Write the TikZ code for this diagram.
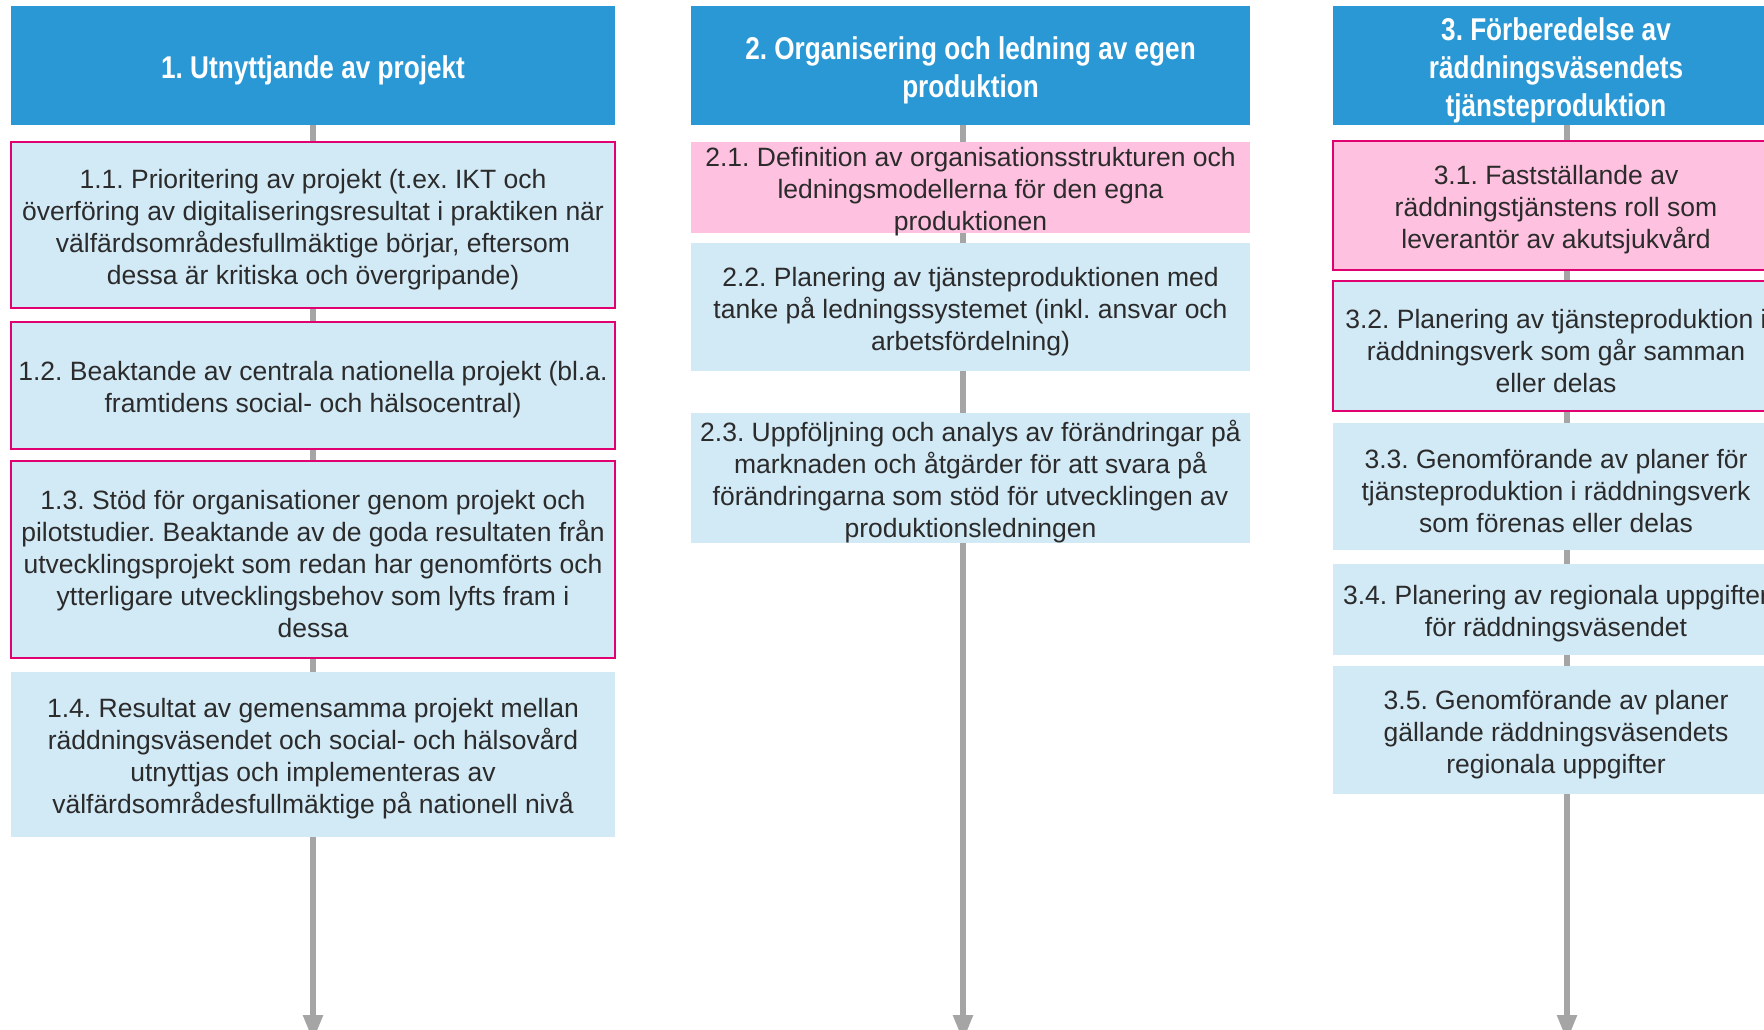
\documentclass[tikz,border=0pt]{standalone}
\usepackage{fontspec}
\setmainfont{Liberation Sans}
\newfontfamily\headfont[FakeStretch=0.83]{Liberation Sans}
\usetikzlibrary{backgrounds,arrows.meta}
\definecolor{headblue}{HTML}{2998D5}
\definecolor{lightblue}{HTML}{D2E9F6}
\definecolor{pinkfill}{HTML}{FEC1DF}
\definecolor{magentab}{HTML}{E1006F}
\definecolor{conngray}{HTML}{A5A5A5}
\definecolor{textgray}{HTML}{2B2B2B}
\frenchspacing
\newcommand{\fstrut}{}
\tikzset{
  cell/.style={inner sep=0pt, outer sep=0pt, align=center, text=textgray,
    font=\fontsize{13.25}{16}\selectfont,
    execute at begin node={\def\fstrut{\rule{0pt}{14.2pt}}}},
  headbox/.style={inner sep=0pt, outer sep=0pt, align=center,
    fill=headblue, text=white,
    font=\headfont\bfseries\fontsize{15.75}{19}\selectfont,
    execute at begin node={\def\fstrut{\rule{0pt}{16pt}}}},
  bluebox/.style={cell, fill=lightblue},
  blueframe/.style={cell, fill=lightblue, draw=magentab, line width=1.2pt},
  pinktext/.style={cell},
  pinkframe/.style={cell, fill=pinkfill, draw=magentab, line width=1.2pt},
  conn/.style={draw=conngray, line width=2.7pt,
    -{Triangle[width=9.5pt,length=13pt]}},
}
% name, style, left, top, right, bottom, text
\newcommand{\cellbox}[7]{%
  \node[#2, minimum width={(#5-#3)*0.5pt}, minimum height={(#6-#4)*0.5pt}]
    (#1) at ({(#3+#5)/2},{(#4+#6)/2}) {\fstrut#7};}
\begin{document}
\begin{tikzpicture}[x=0.5pt,y=-0.5pt]
\useasboundingbox (0,0) rectangle (1764,1029);
\clip (0,0) rectangle (1764,1029);
% column 1
\cellbox{h1}{headbox}{11}{6}{615}{125}{1. Utnyttjande av projekt}
\cellbox{b11}{blueframe}{11}{142}{615}{308}{1.1. Prioritering av projekt (t.ex. IKT och\\överföring av digitaliseringsresultat i praktiken när\\välfärdsområdesfullmäktige börjar, eftersom\\dessa är kritiska och övergripande)}
\cellbox{b12}{blueframe}{11}{322}{615}{449}{1.2. Beaktande av centrala nationella projekt (bl.a.\\framtidens social- och hälsocentral)}
\cellbox{b13}{blueframe}{11}{461}{615}{658}{1.3. Stöd för organisationer genom projekt och\\pilotstudier. Beaktande av de goda resultaten från\\utvecklingsprojekt som redan har genomförts och\\ytterligare utvecklingsbehov som lyfts fram i\\dessa}
\cellbox{b14}{bluebox}{11}{672}{615}{837}{1.4. Resultat av gemensamma projekt mellan\\räddningsväsendet och social- och hälsovård\\utnyttjas och implementeras av\\välfärdsområdesfullmäktige på nationell nivå}
\coordinate (e1) at (313,1041);
% column 2
\cellbox{h2}{headbox}{691}{6}{1250}{125}{2. Organisering och ledning av egen\\produktion}
\fill[pinkfill] (691,142) rectangle (1250,233);
\cellbox{b21}{pinktext}{691}{142}{1250}{233}{2.1. Definition av organisationsstrukturen och\\ledningsmodellerna för den egna\\produktionen}
\cellbox{b22}{bluebox}{691}{243}{1250}{371}{2.2. Planering av tjänsteproduktionen med\\tanke på ledningssystemet (inkl. ansvar och\\arbetsfördelning)}
\cellbox{b23}{bluebox}{691}{414}{1250}{542}{2.3. Uppföljning och analys av förändringar på\\marknaden och åtgärder för att svara på\\förändringarna som stöd för utvecklingen av\\produktionsledningen}
\coordinate (s2) at (963,125);
\coordinate (e2) at (963,1041);
% column 3
\cellbox{h3}{headbox}{1333}{6}{1779}{125}{3. Förberedelse av\\räddningsväsendets\\tjänsteproduktion}
\cellbox{b31}{pinkframe}{1333}{141}{1779}{270}{3.1. Fastställande av\\räddningstjänstens roll som\\leverantör av akutsjukvård}
\cellbox{b32}{blueframe}{1333}{281}{1779}{411}{3.2. Planering av tjänsteproduktion i\\räddningsverk som går samman\\eller delas}
\cellbox{b33}{bluebox}{1333}{423}{1779}{550}{3.3. Genomförande av planer för\\tjänsteproduktion i räddningsverk\\som förenas eller delas}
\cellbox{b34}{bluebox}{1333}{564}{1779}{655}{3.4. Planering av regionala uppgifter\\för räddningsväsendet}
\cellbox{b35}{bluebox}{1333}{666}{1779}{794}{3.5. Genomförande av planer\\gällande räddningsväsendets\\regionala uppgifter}
\coordinate (s3) at (1567,125);
\coordinate (e3) at (1567,1041);
\begin{scope}[on background layer]
  \draw[conn] (h1.south) -- (e1);
  \draw[conn] (s2) -- (e2);
  \draw[conn] (s3) -- (e3);
\end{scope}
\end{tikzpicture}
\end{document}
